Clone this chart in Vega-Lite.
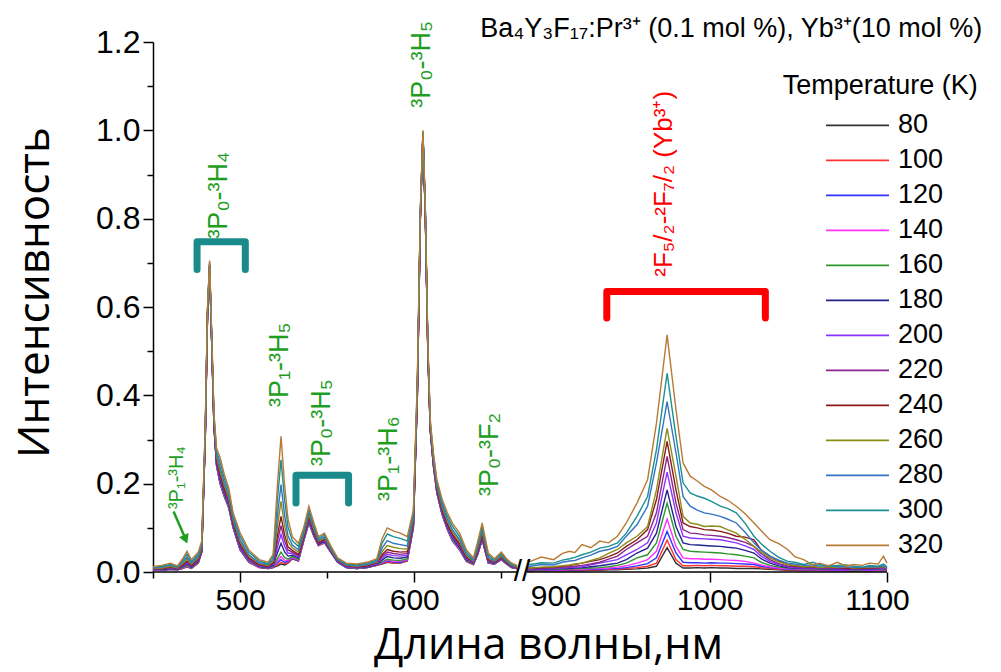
{
"$schema": "https://vega.github.io/schema/vega-lite/v6.json",
"width": 734, "height": 530,
"autosize": {"type": "none"},
"padding": {"left": 153, "top": 42, "right": 114, "bottom": 100},
"background": "white",
"config": {"view": {"stroke": null}},
"datasets": {
"sp": [
{"w":450,"s":"a","80":0.005,"100":0.005,"120":0.005,"140":0.005,"160":0.006,"180":0.006,"200":0.007,"220":0.007,"240":0.008,"260":0.008,"280":0.009,"300":0.011,"320":0.012},
{"w":455,"s":"a","80":0.004,"100":0.004,"120":0.004,"140":0.005,"160":0.005,"180":0.006,"200":0.007,"220":0.007,"240":0.008,"260":0.009,"280":0.011,"300":0.013,"320":0.015},
{"w":460,"s":"a","80":0.006,"100":0.006,"120":0.006,"140":0.007,"160":0.007,"180":0.008,"200":0.009,"220":0.010,"240":0.011,"260":0.013,"280":0.015,"300":0.017,"320":0.020},
{"w":464,"s":"a","80":0.005,"100":0.005,"120":0.005,"140":0.006,"160":0.006,"180":0.006,"200":0.007,"220":0.008,"240":0.008,"260":0.009,"280":0.011,"300":0.012,"320":0.014},
{"w":467,"s":"a","80":0.008,"100":0.008,"120":0.009,"140":0.009,"160":0.010,"180":0.012,"200":0.013,"220":0.015,"240":0.016,"260":0.019,"280":0.022,"300":0.026,"320":0.030},
{"w":469.5,"s":"a","80":0.012,"100":0.012,"120":0.013,"140":0.014,"160":0.015,"180":0.018,"200":0.020,"220":0.023,"240":0.025,"260":0.029,"280":0.034,"300":0.041,"320":0.047},
{"w":472,"s":"a","80":0.008,"100":0.008,"120":0.009,"140":0.009,"160":0.010,"180":0.011,"200":0.013,"220":0.014,"240":0.015,"260":0.018,"280":0.020,"300":0.024,"320":0.028},
{"w":476,"s":"a","80":0.020,"100":0.020,"120":0.021,"140":0.021,"160":0.022,"180":0.024,"200":0.026,"220":0.028,"240":0.029,"260":0.032,"280":0.036,"300":0.040,"320":0.045},
{"w":478,"s":"a","80":0.045,"100":0.045,"120":0.046,"140":0.046,"160":0.047,"180":0.049,"200":0.051,"220":0.053,"240":0.054,"260":0.057,"280":0.061,"300":0.065,"320":0.070},
{"w":480,"s":"a","80":0.300,"100":0.300,"120":0.301,"140":0.302,"160":0.303,"180":0.305,"200":0.307,"220":0.309,"240":0.311,"260":0.315,"280":0.319,"300":0.325,"320":0.330},
{"w":481.3,"s":"a","80":0.580,"100":0.580,"120":0.581,"140":0.581,"160":0.582,"180":0.583,"200":0.585,"220":0.586,"240":0.587,"260":0.590,"280":0.592,"300":0.596,"320":0.600},
{"w":482.5,"s":"a","80":0.690,"100":0.690,"120":0.691,"140":0.691,"160":0.691,"180":0.692,"200":0.693,"220":0.695,"240":0.696,"260":0.697,"280":0.699,"300":0.702,"320":0.705},
{"w":483.7,"s":"a","80":0.520,"100":0.520,"120":0.521,"140":0.521,"160":0.522,"180":0.523,"200":0.525,"220":0.526,"240":0.527,"260":0.530,"280":0.532,"300":0.536,"320":0.540},
{"w":485,"s":"a","80":0.330,"100":0.330,"120":0.331,"140":0.332,"160":0.333,"180":0.335,"200":0.337,"220":0.339,"240":0.341,"260":0.345,"280":0.349,"300":0.355,"320":0.360},
{"w":486.5,"s":"a","80":0.240,"100":0.241,"120":0.241,"140":0.242,"160":0.244,"180":0.247,"200":0.249,"220":0.252,"240":0.255,"260":0.260,"280":0.265,"300":0.273,"320":0.280},
{"w":488.5,"s":"a","80":0.200,"100":0.201,"120":0.202,"140":0.204,"160":0.206,"180":0.210,"200":0.214,"220":0.218,"240":0.222,"260":0.229,"280":0.237,"300":0.249,"320":0.260},
{"w":491,"s":"a","80":0.170,"100":0.171,"120":0.172,"140":0.173,"160":0.175,"180":0.178,"200":0.182,"220":0.185,"240":0.189,"260":0.195,"280":0.201,"300":0.211,"320":0.220},
{"w":493.5,"s":"a","80":0.145,"100":0.146,"120":0.147,"140":0.148,"160":0.149,"180":0.152,"200":0.155,"220":0.159,"240":0.162,"260":0.167,"280":0.173,"300":0.182,"320":0.190},
{"w":496,"s":"a","80":0.100,"100":0.100,"120":0.101,"140":0.102,"160":0.103,"180":0.106,"200":0.108,"220":0.110,"240":0.113,"260":0.117,"280":0.121,"300":0.128,"320":0.134},
{"w":500,"s":"a","80":0.050,"100":0.051,"120":0.051,"140":0.052,"160":0.054,"180":0.056,"200":0.059,"220":0.062,"240":0.065,"260":0.069,"280":0.074,"300":0.082,"320":0.089},
{"w":505,"s":"a","80":0.022,"100":0.022,"120":0.023,"140":0.024,"160":0.025,"180":0.027,"200":0.028,"220":0.030,"240":0.032,"260":0.036,"280":0.039,"300":0.045,"320":0.050},
{"w":511,"s":"a","80":0.010,"100":0.010,"120":0.011,"140":0.011,"160":0.012,"180":0.013,"200":0.014,"220":0.015,"240":0.017,"260":0.019,"280":0.021,"300":0.025,"320":0.028},
{"w":516,"s":"a","80":0.008,"100":0.008,"120":0.008,"140":0.009,"160":0.009,"180":0.010,"200":0.011,"220":0.012,"240":0.013,"260":0.015,"280":0.017,"300":0.019,"320":0.022},
{"w":519,"s":"a","80":0.010,"100":0.010,"120":0.011,"140":0.012,"160":0.013,"180":0.015,"200":0.017,"220":0.019,"240":0.021,"260":0.025,"280":0.029,"300":0.035,"320":0.040},
{"w":521.5,"s":"a","80":0.014,"100":0.017,"120":0.021,"140":0.025,"160":0.031,"180":0.044,"200":0.057,"220":0.070,"240":0.084,"260":0.105,"280":0.130,"300":0.166,"320":0.200},
{"w":523.5,"s":"a","80":0.018,"100":0.022,"120":0.028,"140":0.035,"160":0.045,"180":0.065,"200":0.085,"220":0.105,"240":0.126,"260":0.160,"280":0.198,"300":0.254,"320":0.307},
{"w":525.5,"s":"a","80":0.016,"100":0.019,"120":0.022,"140":0.027,"160":0.033,"180":0.046,"200":0.059,"220":0.071,"240":0.085,"260":0.106,"280":0.131,"300":0.166,"320":0.200},
{"w":527.5,"s":"a","80":0.020,"100":0.021,"120":0.024,"140":0.026,"160":0.029,"180":0.036,"200":0.043,"220":0.050,"240":0.057,"260":0.069,"280":0.082,"300":0.102,"320":0.120},
{"w":530,"s":"a","80":0.030,"100":0.031,"120":0.032,"140":0.033,"160":0.035,"180":0.038,"200":0.042,"220":0.045,"240":0.049,"260":0.055,"280":0.061,"300":0.071,"320":0.080},
{"w":533.5,"s":"a","80":0.025,"100":0.026,"120":0.026,"140":0.027,"160":0.029,"180":0.032,"200":0.034,"220":0.037,"240":0.040,"260":0.045,"280":0.050,"300":0.058,"320":0.065},
{"w":536.5,"s":"a","80":0.070,"100":0.070,"120":0.071,"140":0.072,"160":0.073,"180":0.075,"200":0.077,"220":0.079,"240":0.081,"260":0.085,"280":0.089,"300":0.095,"320":0.100},
{"w":539.5,"s":"a","80":0.111,"100":0.112,"120":0.112,"140":0.113,"160":0.115,"180":0.117,"200":0.120,"220":0.122,"240":0.125,"260":0.130,"280":0.135,"300":0.142,"320":0.149},
{"w":542.5,"s":"a","80":0.080,"100":0.080,"120":0.081,"140":0.082,"160":0.083,"180":0.085,"200":0.087,"220":0.089,"240":0.091,"260":0.095,"280":0.099,"300":0.105,"320":0.110},
{"w":545,"s":"a","80":0.060,"100":0.060,"120":0.061,"140":0.061,"160":0.062,"180":0.063,"200":0.065,"220":0.066,"240":0.067,"260":0.070,"280":0.072,"300":0.076,"320":0.080},
{"w":548.5,"s":"a","80":0.066,"100":0.066,"120":0.067,"140":0.067,"160":0.068,"180":0.070,"200":0.071,"220":0.073,"240":0.074,"260":0.077,"280":0.080,"300":0.084,"320":0.088},
{"w":552,"s":"a","80":0.045,"100":0.045,"120":0.046,"140":0.046,"160":0.046,"180":0.047,"200":0.048,"220":0.050,"240":0.051,"260":0.052,"280":0.054,"300":0.057,"320":0.060},
{"w":556,"s":"a","80":0.022,"100":0.022,"120":0.022,"140":0.023,"160":0.023,"180":0.024,"200":0.024,"220":0.025,"240":0.026,"260":0.027,"280":0.028,"300":0.030,"320":0.032},
{"w":561,"s":"a","80":0.010,"100":0.010,"120":0.010,"140":0.011,"160":0.011,"180":0.012,"200":0.012,"220":0.013,"240":0.014,"260":0.015,"280":0.016,"300":0.018,"320":0.020},
{"w":567,"s":"a","80":0.008,"100":0.008,"120":0.008,"140":0.009,"160":0.009,"180":0.010,"200":0.010,"220":0.011,"240":0.012,"260":0.013,"280":0.014,"300":0.016,"320":0.018},
{"w":573,"s":"a","80":0.010,"100":0.010,"120":0.010,"140":0.011,"160":0.011,"180":0.012,"200":0.013,"220":0.014,"240":0.014,"260":0.016,"280":0.017,"300":0.020,"320":0.022},
{"w":578.5,"s":"a","80":0.015,"100":0.015,"120":0.016,"140":0.016,"160":0.016,"180":0.017,"200":0.018,"220":0.020,"240":0.021,"260":0.022,"280":0.024,"300":0.027,"320":0.030},
{"w":581.5,"s":"a","80":0.018,"100":0.019,"120":0.020,"140":0.021,"160":0.023,"180":0.027,"200":0.031,"220":0.035,"240":0.039,"260":0.046,"280":0.054,"300":0.065,"320":0.075},
{"w":584.5,"s":"a","80":0.022,"100":0.023,"120":0.025,"140":0.027,"160":0.029,"180":0.035,"200":0.040,"220":0.045,"240":0.051,"260":0.060,"280":0.071,"300":0.086,"320":0.100},
{"w":588,"s":"a","80":0.020,"100":0.021,"120":0.023,"140":0.024,"160":0.027,"180":0.032,"200":0.037,"220":0.042,"240":0.047,"260":0.056,"280":0.065,"300":0.080,"320":0.093},
{"w":592,"s":"a","80":0.020,"100":0.021,"120":0.022,"140":0.024,"160":0.026,"180":0.031,"200":0.036,"220":0.040,"240":0.045,"260":0.053,"280":0.062,"300":0.076,"320":0.088},
{"w":596,"s":"a","80":0.025,"100":0.026,"120":0.027,"140":0.028,"160":0.030,"180":0.034,"200":0.038,"220":0.042,"240":0.046,"260":0.052,"280":0.059,"300":0.070,"320":0.080},
{"w":599.5,"s":"a","80":0.100,"100":0.101,"120":0.101,"140":0.102,"160":0.104,"180":0.107,"200":0.109,"220":0.112,"240":0.115,"260":0.120,"280":0.125,"300":0.133,"320":0.140},
{"w":601.8,"s":"a","80":0.400,"100":0.401,"120":0.401,"140":0.402,"160":0.404,"180":0.407,"200":0.409,"220":0.412,"240":0.415,"260":0.420,"280":0.425,"300":0.433,"320":0.440},
{"w":603.5,"s":"a","80":0.800,"100":0.800,"120":0.801,"140":0.801,"160":0.802,"180":0.803,"200":0.805,"220":0.806,"240":0.807,"260":0.810,"280":0.812,"300":0.816,"320":0.820},
{"w":605,"s":"a","80":0.990,"100":0.990,"120":0.990,"140":0.991,"160":0.991,"180":0.992,"200":0.992,"220":0.993,"240":0.994,"260":0.995,"280":0.996,"300":0.998,"320":1.000},
{"w":606.4,"s":"a","80":0.800,"100":0.800,"120":0.801,"140":0.801,"160":0.802,"180":0.803,"200":0.805,"220":0.806,"240":0.807,"260":0.810,"280":0.812,"300":0.816,"320":0.820},
{"w":607.8,"s":"a","80":0.500,"100":0.500,"120":0.501,"140":0.501,"160":0.502,"180":0.503,"200":0.505,"220":0.506,"240":0.507,"260":0.510,"280":0.512,"300":0.516,"320":0.520},
{"w":609.2,"s":"a","80":0.320,"100":0.320,"120":0.321,"140":0.321,"160":0.322,"180":0.324,"200":0.326,"220":0.328,"240":0.329,"260":0.332,"280":0.336,"300":0.340,"320":0.345},
{"w":611,"s":"a","80":0.240,"100":0.240,"120":0.241,"140":0.242,"160":0.243,"180":0.245,"200":0.247,"220":0.249,"240":0.251,"260":0.255,"280":0.259,"300":0.265,"320":0.270},
{"w":613,"s":"a","80":0.179,"100":0.179,"120":0.180,"140":0.181,"160":0.182,"180":0.184,"200":0.186,"220":0.188,"240":0.190,"260":0.194,"280":0.198,"300":0.204,"320":0.209},
{"w":616,"s":"a","80":0.130,"100":0.130,"120":0.131,"140":0.132,"160":0.133,"180":0.136,"200":0.138,"220":0.141,"240":0.143,"260":0.147,"280":0.152,"300":0.159,"320":0.165},
{"w":619,"s":"a","80":0.096,"100":0.097,"120":0.097,"140":0.098,"160":0.100,"180":0.102,"200":0.105,"220":0.107,"240":0.110,"260":0.115,"280":0.120,"300":0.127,"320":0.134},
{"w":622,"s":"a","80":0.070,"100":0.071,"120":0.071,"140":0.072,"160":0.074,"180":0.077,"200":0.079,"220":0.082,"240":0.085,"260":0.090,"280":0.095,"300":0.103,"320":0.110},
{"w":626,"s":"a","80":0.050,"100":0.051,"120":0.051,"140":0.052,"160":0.054,"180":0.056,"200":0.059,"220":0.061,"240":0.064,"260":0.069,"280":0.074,"300":0.081,"320":0.088},
{"w":630,"s":"a","80":0.024,"100":0.024,"120":0.025,"140":0.026,"160":0.026,"180":0.028,"200":0.030,"220":0.032,"240":0.034,"260":0.037,"280":0.040,"300":0.045,"320":0.050},
{"w":634,"s":"a","80":0.017,"100":0.017,"120":0.018,"140":0.018,"160":0.018,"180":0.019,"200":0.020,"220":0.022,"240":0.023,"260":0.024,"280":0.026,"300":0.029,"320":0.032},
{"w":636.5,"s":"a","80":0.040,"100":0.040,"120":0.041,"140":0.042,"160":0.043,"180":0.045,"200":0.047,"220":0.049,"240":0.051,"260":0.055,"280":0.059,"300":0.065,"320":0.070},
{"w":639,"s":"a","80":0.073,"100":0.074,"120":0.074,"140":0.075,"160":0.077,"180":0.079,"200":0.082,"220":0.084,"240":0.087,"260":0.092,"280":0.097,"300":0.104,"320":0.111},
{"w":642.5,"s":"a","80":0.020,"100":0.020,"120":0.021,"140":0.021,"160":0.022,"180":0.024,"200":0.025,"220":0.027,"240":0.029,"260":0.031,"280":0.034,"300":0.039,"320":0.043},
{"w":646,"s":"a","80":0.018,"100":0.018,"120":0.018,"140":0.019,"160":0.019,"180":0.020,"200":0.021,"220":0.022,"240":0.022,"260":0.024,"280":0.025,"300":0.028,"320":0.030},
{"w":650,"s":"a","80":0.028,"100":0.028,"120":0.029,"140":0.029,"160":0.030,"180":0.031,"200":0.032,"220":0.033,"240":0.034,"260":0.036,"280":0.039,"300":0.042,"320":0.045},
{"w":653,"s":"a","80":0.018,"100":0.018,"120":0.018,"140":0.019,"160":0.019,"180":0.020,"200":0.021,"220":0.022,"240":0.022,"260":0.024,"280":0.025,"300":0.028,"320":0.030},
{"w":656,"s":"a","80":0.010,"100":0.010,"120":0.010,"140":0.011,"160":0.011,"180":0.012,"200":0.012,"220":0.013,"240":0.014,"260":0.015,"280":0.016,"300":0.018,"320":0.020},
{"w":659,"s":"a","80":0.008,"100":0.008,"120":0.008,"140":0.008,"160":0.009,"180":0.009,"200":0.010,"220":0.010,"240":0.011,"260":0.011,"280":0.012,"300":0.014,"320":0.015},
{"w":897,"s":"b","80":0.002,"100":0.003,"120":0.004,"140":0.004,"160":0.005,"180":0.005,"200":0.006,"220":0.007,"240":0.009,"260":0.009,"280":0.013,"300":0.018,"320":0.025},
{"w":899,"s":"b","80":0.002,"100":0.003,"120":0.004,"140":0.004,"160":0.005,"180":0.005,"200":0.006,"220":0.007,"240":0.009,"260":0.009,"280":0.013,"300":0.017,"320":0.024},
{"w":905,"s":"b","80":0.003,"100":0.003,"120":0.004,"140":0.005,"160":0.005,"180":0.006,"200":0.007,"220":0.008,"240":0.010,"260":0.011,"280":0.017,"300":0.021,"320":0.034},
{"w":912,"s":"b","80":0.003,"100":0.004,"120":0.004,"140":0.005,"160":0.006,"180":0.007,"200":0.008,"220":0.009,"240":0.011,"260":0.012,"280":0.016,"300":0.020,"320":0.028},
{"w":917,"s":"b","80":0.003,"100":0.004,"120":0.005,"140":0.005,"160":0.006,"180":0.008,"200":0.009,"220":0.011,"240":0.013,"260":0.014,"280":0.022,"300":0.027,"320":0.042},
{"w":921,"s":"b","80":0.003,"100":0.004,"120":0.005,"140":0.006,"160":0.007,"180":0.008,"200":0.010,"220":0.012,"240":0.015,"260":0.016,"280":0.025,"300":0.030,"320":0.047},
{"w":924,"s":"b","80":0.003,"100":0.004,"120":0.005,"140":0.006,"160":0.007,"180":0.009,"200":0.011,"220":0.013,"240":0.017,"260":0.018,"280":0.026,"300":0.033,"320":0.044},
{"w":928,"s":"b","80":0.003,"100":0.004,"120":0.005,"140":0.006,"160":0.008,"180":0.010,"200":0.012,"220":0.015,"240":0.020,"260":0.020,"280":0.032,"300":0.039,"320":0.062},
{"w":933,"s":"b","80":0.004,"100":0.005,"120":0.006,"140":0.007,"160":0.009,"180":0.012,"200":0.016,"220":0.018,"240":0.024,"260":0.026,"280":0.038,"300":0.045,"320":0.055},
{"w":938,"s":"b","80":0.004,"100":0.005,"120":0.006,"140":0.008,"160":0.010,"180":0.014,"200":0.020,"220":0.022,"240":0.028,"260":0.032,"280":0.047,"300":0.054,"320":0.070},
{"w":943,"s":"b","80":0.005,"100":0.006,"120":0.007,"140":0.009,"160":0.012,"180":0.017,"200":0.024,"220":0.029,"240":0.035,"260":0.042,"280":0.051,"300":0.058,"320":0.066},
{"w":948,"s":"b","80":0.005,"100":0.006,"120":0.008,"140":0.011,"160":0.015,"180":0.020,"200":0.028,"220":0.036,"240":0.043,"260":0.051,"280":0.058,"300":0.066,"320":0.081},
{"w":953,"s":"b","80":0.006,"100":0.008,"120":0.010,"140":0.014,"160":0.020,"180":0.028,"200":0.039,"220":0.051,"240":0.058,"260":0.066,"280":0.081,"300":0.088,"320":0.111},
{"w":959,"s":"b","80":0.007,"100":0.010,"120":0.014,"140":0.020,"160":0.032,"180":0.043,"200":0.051,"220":0.066,"240":0.073,"260":0.081,"280":0.107,"300":0.126,"320":0.156},
{"w":965,"s":"b","80":0.009,"100":0.013,"120":0.019,"140":0.028,"160":0.039,"180":0.054,"200":0.066,"220":0.081,"240":0.096,"260":0.103,"280":0.149,"300":0.171,"320":0.209},
{"w":970,"s":"b","80":0.013,"100":0.020,"120":0.032,"140":0.047,"160":0.066,"180":0.088,"200":0.111,"220":0.134,"240":0.164,"260":0.186,"280":0.247,"300":0.277,"320":0.337},
{"w":976,"s":"b","80":0.055,"100":0.072,"120":0.092,"140":0.120,"160":0.156,"180":0.186,"200":0.226,"220":0.262,"240":0.296,"260":0.325,"280":0.386,"300":0.450,"320":0.537},
{"w":981,"s":"b","80":0.020,"100":0.028,"120":0.043,"140":0.058,"160":0.081,"180":0.103,"200":0.134,"220":0.156,"240":0.186,"260":0.217,"280":0.270,"300":0.307,"320":0.368},
{"w":985,"s":"b","80":0.009,"100":0.014,"120":0.022,"140":0.032,"160":0.051,"180":0.066,"200":0.081,"220":0.096,"240":0.111,"260":0.126,"280":0.171,"300":0.202,"320":0.247},
{"w":989,"s":"b","80":0.009,"100":0.014,"120":0.021,"140":0.030,"160":0.047,"180":0.062,"200":0.077,"220":0.088,"240":0.103,"260":0.111,"280":0.149,"300":0.179,"320":0.217},
{"w":993,"s":"b","80":0.010,"100":0.015,"120":0.021,"140":0.030,"160":0.046,"180":0.061,"200":0.076,"220":0.087,"240":0.100,"260":0.108,"280":0.140,"300":0.172,"320":0.206},
{"w":997,"s":"b","80":0.009,"100":0.014,"120":0.020,"140":0.029,"160":0.045,"180":0.060,"200":0.075,"220":0.084,"240":0.096,"260":0.103,"280":0.134,"300":0.167,"320":0.194},
{"w":1001,"s":"b","80":0.010,"100":0.015,"120":0.021,"140":0.029,"160":0.044,"180":0.059,"200":0.074,"220":0.083,"240":0.095,"260":0.104,"280":0.131,"300":0.160,"320":0.186},
{"w":1006,"s":"b","80":0.009,"100":0.014,"120":0.020,"140":0.028,"160":0.043,"180":0.058,"200":0.073,"220":0.081,"240":0.092,"260":0.103,"280":0.126,"300":0.149,"320":0.171},
{"w":1010,"s":"b","80":0.009,"100":0.014,"120":0.020,"140":0.027,"160":0.041,"180":0.056,"200":0.070,"220":0.078,"240":0.088,"260":0.096,"280":0.120,"300":0.144,"320":0.163},
{"w":1015,"s":"b","80":0.008,"100":0.013,"120":0.019,"140":0.026,"160":0.039,"180":0.054,"200":0.066,"220":0.073,"240":0.081,"260":0.088,"280":0.111,"300":0.134,"320":0.149},
{"w":1020,"s":"b","80":0.008,"100":0.013,"120":0.018,"140":0.024,"160":0.036,"180":0.049,"200":0.059,"220":0.067,"240":0.079,"260":0.074,"280":0.090,"300":0.110,"320":0.132},
{"w":1025,"s":"b","80":0.008,"100":0.012,"120":0.017,"140":0.020,"160":0.032,"180":0.043,"200":0.051,"220":0.058,"240":0.073,"260":0.058,"280":0.066,"300":0.081,"320":0.111},
{"w":1029,"s":"b","80":0.007,"100":0.010,"120":0.013,"140":0.016,"160":0.022,"180":0.030,"200":0.036,"220":0.042,"240":0.050,"260":0.045,"280":0.050,"300":0.064,"320":0.094},
{"w":1034,"s":"b","80":0.006,"100":0.008,"120":0.010,"140":0.012,"160":0.015,"180":0.020,"200":0.024,"220":0.028,"240":0.036,"260":0.032,"280":0.036,"300":0.047,"320":0.073},
{"w":1039,"s":"b","80":0.005,"100":0.006,"120":0.008,"140":0.009,"160":0.011,"180":0.014,"200":0.017,"220":0.019,"240":0.025,"260":0.023,"280":0.027,"300":0.033,"320":0.064},
{"w":1044,"s":"b","80":0.004,"100":0.005,"120":0.006,"140":0.007,"160":0.009,"180":0.010,"200":0.012,"220":0.013,"240":0.017,"260":0.017,"280":0.020,"300":0.024,"320":0.051},
{"w":1048,"s":"b","80":0.004,"100":0.005,"120":0.006,"140":0.007,"160":0.008,"180":0.009,"200":0.010,"220":0.012,"240":0.014,"260":0.015,"280":0.018,"300":0.022,"320":0.035},
{"w":1053,"s":"b","80":0.003,"100":0.004,"120":0.005,"140":0.006,"160":0.007,"180":0.008,"200":0.009,"220":0.010,"240":0.012,"260":0.012,"280":0.015,"300":0.017,"320":0.028},
{"w":1058,"s":"b","80":0.004,"100":0.004,"120":0.005,"140":0.006,"160":0.007,"180":0.008,"200":0.009,"220":0.010,"240":0.012,"260":0.013,"280":0.016,"300":0.022,"320":0.016},
{"w":1062,"s":"b","80":0.003,"100":0.004,"120":0.005,"140":0.005,"160":0.006,"180":0.007,"200":0.008,"220":0.009,"240":0.010,"260":0.010,"280":0.013,"300":0.017,"320":0.020},
{"w":1067,"s":"b","80":0.003,"100":0.004,"120":0.005,"140":0.006,"160":0.006,"180":0.007,"200":0.008,"220":0.009,"240":0.011,"260":0.012,"280":0.015,"300":0.013,"320":0.014},
{"w":1072,"s":"b","80":0.003,"100":0.004,"120":0.004,"140":0.005,"160":0.006,"180":0.006,"200":0.007,"220":0.008,"240":0.010,"260":0.010,"280":0.012,"300":0.015,"320":0.022},
{"w":1077,"s":"b","80":0.002,"100":0.003,"120":0.004,"140":0.005,"160":0.006,"180":0.006,"200":0.007,"220":0.008,"240":0.009,"260":0.011,"280":0.012,"300":0.016,"320":0.013},
{"w":1081,"s":"b","80":0.002,"100":0.003,"120":0.004,"140":0.005,"160":0.005,"180":0.006,"200":0.007,"220":0.007,"240":0.008,"260":0.009,"280":0.010,"300":0.013,"320":0.017},
{"w":1086,"s":"b","80":0.002,"100":0.003,"120":0.004,"140":0.005,"160":0.005,"180":0.006,"200":0.007,"220":0.008,"240":0.009,"260":0.010,"280":0.011,"300":0.011,"320":0.015},
{"w":1090,"s":"b","80":0.002,"100":0.003,"120":0.004,"140":0.005,"160":0.006,"180":0.006,"200":0.007,"220":0.008,"240":0.009,"260":0.010,"280":0.012,"300":0.015,"320":0.020},
{"w":1095,"s":"b","80":0.003,"100":0.004,"120":0.005,"140":0.005,"160":0.006,"180":0.007,"200":0.008,"220":0.009,"240":0.010,"260":0.011,"280":0.012,"300":0.013,"320":0.018},
{"w":1098,"s":"b","80":0.003,"100":0.004,"120":0.005,"140":0.006,"160":0.007,"180":0.008,"200":0.009,"220":0.010,"240":0.012,"260":0.012,"280":0.014,"300":0.018,"320":0.036},
{"w":1100,"s":"b","80":0.002,"100":0.003,"120":0.004,"140":0.004,"160":0.005,"180":0.005,"200":0.006,"220":0.007,"240":0.008,"260":0.008,"280":0.010,"300":0.012,"320":0.020}
],
"axisline": [{"a":450,"b":659},{"a":897,"b":1100}],
"teal": [
{"g":1,"o":1,"x":475.3,"y":0.685},{"g":1,"o":2,"x":475.3,"y":0.748},{"g":1,"o":3,"x":503,"y":0.748},{"g":1,"o":4,"x":503,"y":0.685},
{"g":2,"o":1,"x":532.1,"y":0.156},{"g":2,"o":2,"x":532.1,"y":0.219},{"g":2,"o":3,"x":562.3,"y":0.219},{"g":2,"o":4,"x":562.3,"y":0.156}
],
"red": [
{"o":1,"x":942,"y":0.575},{"o":2,"x":942,"y":0.635},{"o":3,"x":1031.4,"y":0.635},{"o":4,"x":1031.4,"y":0.575}
],
"greenBig": [
{"x":492.7,"y":0.853,"t":"³P₀-³H₄"},
{"x":527.7,"y":0.469,"t":"³P₁-³H₅"},
{"x":551.8,"y":0.338,"t":"³P₀-³H₅"},
{"x":590.2,"y":0.2565,"t":"³P₁-³H₆"},
{"x":609.2,"y":1.149,"t":"³P₀-³H₅"},
{"x":648.3,"y":0.266,"t":"³P₀-³F₂"}
],
"greenSmall": [{"x":467.4,"y":0.2135,"t":"³P₁-³H₄"}],
"redText": [{"x":978.8,"y":0.879,"t":"²F₅/₂-²F₇/₂ (Yb³⁺)"}],
"topText": [{"x":637.9,"y":1.212,"t":"Ba₄Y₃F₁₇:Pr³⁺ (0.1 mol %), Yb³⁺(10 mol %)"}],
"legTitle": [{"x":1096.2,"y":1.101,"t":"Temperature (K)"}],
"brk": [{"x":778,"y":0,"t":"//"}],
"arrow": [{"x":461.8,"y":0.137,"x2":468.6,"y2":0.076}],
"head": [{"x":468.7,"y":0.074}]
},
"layer": [
{
"data": {"name": "sp"},
"transform": [{"fold": ["80","100","120","140","160","180","200","220","240","260","280","300","320"], "as": ["T","v"]}],
"mark": {"type": "line", "strokeWidth": 1.4},
"encoding": {
"x": {"field": "w", "type": "quantitative",
 "scale": {"domain": [450,659,897,1100], "range": [0,364,374,734], "nice": false, "zero": false},
 "axis": {"values": [450,500,550,600,650,900,1000,1100], "format": "d",
  "labelExpr": "datum.value == 450 || datum.value == 550 || datum.value == 650 ? '' : datum.label",
  "labelFont": "Liberation Sans", "labelFontSize": 30, "labelColor": "black",
  "labelOverlap": false, "labelFlush": false, "labelBound": false, "labelPadding": 3,
  "labelOffset": {"condition": [{"test": "datum.value == 900", "value": 23}, {"test": "datum.value == 1100", "value": -10}], "value": 0},
  "tickSize": {"condition": {"test": "datum.value == 500 || datum.value == 600 || datum.value >= 1000", "value": 10}, "value": 6},
  "tickOpacity": {"condition": {"test": "datum.value == 900", "value": 0}, "value": 1},
  "tickColor": "black", "tickWidth": 1.5, "domain": false, "grid": false,
  "title": "Длина волны,нм", "titleFont": "Open Sans", "titleFontSize": 43, "titleFontWeight": "normal", "titleColor": "black", "titlePadding": 9, "titleX": 395}},
"y": {"field": "v", "type": "quantitative",
 "scale": {"domain": [0,1.2], "nice": false, "zero": false},
 "axis": {"values": [0,0.1,0.2,0.3,0.4,0.5,0.6,0.7,0.8,0.9,1.0,1.1,1.2],
  "labelExpr": "round(datum.value*10) % 2 == 0 ? format(datum.value, '.1f') : ''",
  "labelFont": "Liberation Sans", "labelFontSize": 32, "labelColor": "black", "labelPadding": 3, "labelOverlap": false, "labelFlush": false,
  "tickSize": {"condition": {"test": "round(datum.value*10) % 2 == 0", "value": 10}, "value": 6},
  "tickColor": "black", "tickWidth": 1.5, "domain": true, "domainColor": "black", "domainWidth": 1.5, "grid": false,
  "title": "Интенсивность", "titleFont": "Open Sans", "titleFontSize": 44, "titleFontWeight": "normal", "titleColor": "black", "titlePadding": 38, "titleY": 250}},
"color": {"field": "T", "type": "nominal",
 "scale": {"domain": ["80","100","120","140","160","180","200","220","240","260","280","300","320"],
  "range": ["#333333","#ff3333","#3333ff","#ff33ff","#2e962e","#23238f","#8c33ff","#8c268c","#8c1a1a","#8c8c1a","#3573c4","#1a9090","#b87a35"]},
 "legend": {"orient": "none", "legendX": 672, "legendY": 66, "title": null, "symbolType": "stroke", "symbolSize": 3969, "symbolStrokeWidth": 1.6,
  "labelFont": "Liberation Sans", "labelFontSize": 27, "labelColor": "black", "labelOffset": 8, "clipHeight": 34.8, "rowPadding": 0, "padding": 0, "labelLimit": 300}},
"detail": {"field": "s"}
}
},
{
"data": {"name": "axisline"},
"mark": {"type": "rule", "color": "black", "strokeWidth": 1.5},
"encoding": {"x": {"field": "a", "type": "quantitative"}, "x2": {"field": "b"}, "y": {"datum": 0}}
},
{
"data": {"name": "brk"},
"mark": {"type": "text", "font": "Liberation Sans", "fontSize": 30, "color": "black", "align": "center", "baseline": "middle"},
"encoding": {"x": {"field": "x", "type": "quantitative"}, "y": {"field": "y", "type": "quantitative"}, "text": {"field": "t"}}
},
{
"data": {"name": "teal"},
"mark": {"type": "line", "color": "#1b8a8a", "strokeWidth": 7, "strokeCap": "round", "strokeJoin": "round"},
"encoding": {"x": {"field": "x", "type": "quantitative"}, "y": {"field": "y", "type": "quantitative"}, "detail": {"field": "g"}, "order": {"field": "o"}}
},
{
"data": {"name": "red"},
"mark": {"type": "line", "color": "#ff0000", "strokeWidth": 7, "strokeCap": "round", "strokeJoin": "round"},
"encoding": {"x": {"field": "x", "type": "quantitative"}, "y": {"field": "y", "type": "quantitative"}, "order": {"field": "o"}}
},
{
"data": {"name": "arrow"},
"mark": {"type": "rule", "color": "#1e9e1e", "strokeWidth": 2.5},
"encoding": {"x": {"field": "x", "type": "quantitative"}, "y": {"field": "y", "type": "quantitative"}, "x2": {"field": "x2"}, "y2": {"field": "y2"}}
},
{
"data": {"name": "head"},
"mark": {"type": "point", "shape": "triangle-down", "filled": true, "color": "#1e9e1e", "size": 110, "angle": 337, "opacity": 1},
"encoding": {"x": {"field": "x", "type": "quantitative"}, "y": {"field": "y", "type": "quantitative"}}
},
{
"data": {"name": "greenBig"},
"mark": {"type": "text", "font": "Liberation Sans", "fontSize": 27, "color": "#1e9e1e", "angle": 270, "align": "center", "baseline": "alphabetic"},
"encoding": {"x": {"field": "x", "type": "quantitative"}, "y": {"field": "y", "type": "quantitative"}, "text": {"field": "t"}}
},
{
"data": {"name": "greenSmall"},
"mark": {"type": "text", "font": "Liberation Sans", "fontSize": 20, "color": "#1e9e1e", "angle": 270, "align": "center", "baseline": "alphabetic"},
"encoding": {"x": {"field": "x", "type": "quantitative"}, "y": {"field": "y", "type": "quantitative"}, "text": {"field": "t"}}
},
{
"data": {"name": "redText"},
"mark": {"type": "text", "font": "Liberation Sans", "fontSize": 26, "color": "#ff0000", "angle": 270, "align": "center", "baseline": "alphabetic"},
"encoding": {"x": {"field": "x", "type": "quantitative"}, "y": {"field": "y", "type": "quantitative"}, "text": {"field": "t"}}
},
{
"data": {"name": "topText"},
"mark": {"type": "text", "font": "Liberation Sans", "fontSize": 27, "color": "black", "align": "left", "baseline": "alphabetic"},
"encoding": {"x": {"field": "x", "type": "quantitative"}, "y": {"field": "y", "type": "quantitative"}, "text": {"field": "t"}}
},
{
"data": {"name": "legTitle"},
"mark": {"type": "text", "font": "Liberation Sans", "fontSize": 27, "color": "black", "align": "center", "baseline": "middle"},
"encoding": {"x": {"field": "x", "type": "quantitative"}, "y": {"field": "y", "type": "quantitative"}, "text": {"field": "t"}}
}
]
}
